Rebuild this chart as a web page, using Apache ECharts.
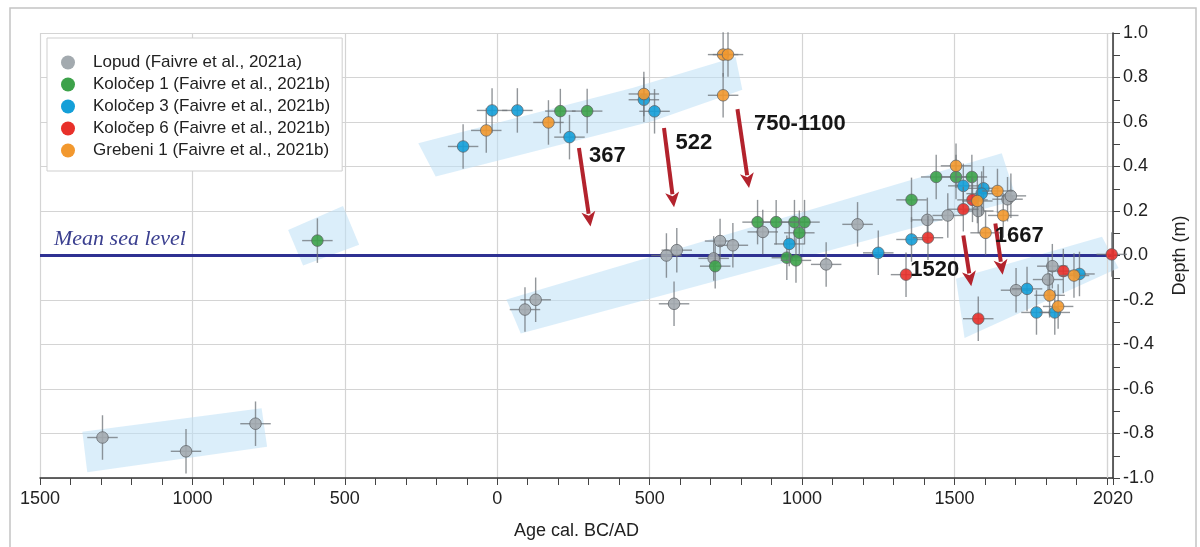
<!DOCTYPE html>
<html>
<head>
<meta charset="utf-8">
<script src="https://cdn.jsdelivr.net/npm/echarts@6/dist/echarts.min.js"></script>
<style>
  html, body { margin: 0; padding: 0; background: #fff; }
  #chart { width: 1200px; height: 547px; }
</style>
</head>
<body>
<div id="chart"></div>
<script>
// age (BC negative / AD positive), depth (m)
const lopud = [
  [-1295, -0.818], [-1021, -0.88], [-793, -0.756],
  [91, -0.243], [126, -0.199], [555, 0.0], [589, 0.024], [580, -0.217],
  [731, 0.065], [773, 0.046], [710, -0.013], [871, 0.106], [1079, -0.04],
  [1182, 0.14], [1411, 0.16], [1478, 0.18], [1578, 0.2], [1674, 0.253],
  [1685, 0.268], [1821, -0.048], [1807, -0.108], [1702, -0.156]
]
const kolocep1 = [
  [-590, 0.067], [207, 0.649], [295, 0.649], [715, -0.048], [854, 0.15],
  [915, 0.15], [975, 0.15], [1008, 0.15], [991, 0.102], [950, -0.01],
  [980, -0.022], [1359, 0.25], [1440, 0.353], [1505, 0.353], [1557, 0.353]
]
const kolocep3 = [
  [-112, 0.49], [-17, 0.652], [66, 0.652], [237, 0.532], [481, 0.70],
  [516, 0.648], [958, 0.052], [1250, 0.012], [1359, 0.072], [1529, 0.313],
  [1595, 0.302], [1589, 0.278], [1738, -0.15], [1769, -0.256], [1829, -0.256],
  [1910, -0.083]
]
const kolocep6 = [
  [1341, -0.086], [1413, 0.08], [1529, 0.208], [1559, 0.25], [1578, -0.284],
  [1857, -0.07], [2016, 0.005]
]
const grebeni1 = [
  [-36, 0.562], [168, 0.598], [481, 0.726], [741, 0.903], [757, 0.903],
  [741, 0.72], [1505, 0.403], [1575, 0.245], [1641, 0.29], [1660, 0.18],
  [1602, 0.102], [1892, -0.09], [1812, -0.179], [1840, -0.229]
]
// error bar half widths
const X_ERR = 50
const Y_ERR = 0.1

// light blue trend bands (corner points, data coords)
const bands = [
  [[-1361, -0.792], [-773, -0.687], [-755, -0.86], [-1345, -0.974]],
  [[-686, 0.115], [-506, 0.223], [-453, 0.048], [-637, -0.045]],
  [[-259, 0.505], [443, 0.753], [782, 0.892], [804, 0.745], [509, 0.603], [-202, 0.355]],
  [[30, -0.198], [1655, 0.46], [1705, 0.25], [77, -0.351]],
  [[1505, -0.105], [1984, 0.084], [2038, -0.056], [1533, -0.371]]
]

// arrows: x1, y1, x2, y2 ; labels: text, x, y
const arrows = [
  [268, 0.483, 306, 0.13],
  [547, 0.573, 580, 0.217],
  [788, 0.658, 826, 0.303],
  [1529, 0.09, 1555, -0.138],
  [1634, 0.144, 1658, -0.086]
]
const arrowLabels = [
  ['367', 301, 0.448],
  ['522', 585, 0.505],
  ['750-1100', 842, 0.592],
  ['1520', 1355, -0.063],
  ['1667', 1632, 0.09]
]

const xLabels = [-1500, -1000, -500, 0, 500, 1000, 1500, 2020]

const FONT = 'Arial, "Liberation Sans", sans-serif'
let chart = echarts.init(document.getElementById('chart'))

function pointSeries(name, data, color) {
  return {
    name: name,
    type: 'custom',
    itemStyle: { color: color },
    z: 5,
    clip: false,
    data: data,
    renderItem(params, api) {
      let x = api.value(0), y = api.value(1)
      let c = api.coord([x, y])
      let l = api.coord([x - X_ERR, y]), r = api.coord([x + X_ERR, y])
      let t = api.coord([x, y + Y_ERR]), b = api.coord([x, y - Y_ERR])
      let barStyle = { stroke: 'rgba(110,115,120,0.75)', lineWidth: 1.4 }
      return {
        type: 'group',
        children: [
          { type: 'line', shape: { x1: l[0], y1: l[1], x2: r[0], y2: r[1] }, style: barStyle },
          { type: 'line', shape: { x1: t[0], y1: t[1], x2: b[0], y2: b[1] }, style: barStyle },
          {
            type: 'circle',
            shape: { cx: c[0], cy: c[1], r: 5.8 },
            style: { fill: color, stroke: '#5a5f63', lineWidth: 0.8, opacity: 0.9 }
          }
        ]
      }
    }
  }
}

chart.setOption({
  backgroundColor: '#fff',
  animation: false,
  textStyle: { fontFamily: FONT },
  graphic: [{
    type: 'rect',
    shape: { x: 10, y: 8, width: 1186, height: 560 },
    style: { fill: 'none', stroke: '#c4c4c4', lineWidth: 1.5 },
    z: -10
  }],
  legend: {
    left: 47,
    top: 38,
    orient: 'vertical',
    backgroundColor: '#fff',
    borderColor: '#cfcfcf',
    borderWidth: 1,
    padding: [16, 12, 12, 14],
    itemGap: 5,
    itemWidth: 14,
    itemHeight: 14,
    icon: 'circle',
    textStyle: { fontSize: 17, color: '#222', fontFamily: FONT, padding: [0, 0, 0, 13] },
    data: [
      'Lopud (Faivre et al., 2021a)',
      'Koločep 1 (Faivre et al., 2021b)',
      'Koločep 3 (Faivre et al., 2021b)',
      'Koločep 6 (Faivre et al., 2021b)',
      'Grebeni 1 (Faivre et al., 2021b)'
    ]
  },
  grid: { left: 40, right: 87, top: 33, bottom: 69 },
  xAxis: {
    type: 'value',
    min: -1500,
    max: 2020,
    interval: 500,
    name: 'Age cal. BC/AD',
    nameLocation: 'middle',
    nameGap: 44,
    nameTextStyle: { fontSize: 18, color: '#222' },
    axisLine: { onZero: false, lineStyle: { color: '#333', width: 1.5 } },
    axisTick: { show: true, length: 7, lineStyle: { color: '#444' } },
    minorTick: { show: true, splitNumber: 5, length: 7, lineStyle: { color: '#444' } },
    axisLabel: {
      fontSize: 18,
      color: '#222',
      margin: 12,
      customValues: xLabels,
      formatter: v => String(Math.abs(v))
    },
    splitLine: { show: true, lineStyle: { color: '#d4d4d4', width: 1.2 } }
  },
  yAxis: {
    type: 'value',
    position: 'right',
    min: -1,
    max: 1,
    interval: 0.2,
    name: 'Depth (m)',
    nameLocation: 'middle',
    nameGap: 58,
    nameRotate: 90,
    nameTextStyle: { fontSize: 18, color: '#222' },
    axisLine: { show: true, onZero: false, lineStyle: { color: '#333', width: 1.5 } },
    axisTick: { show: true, length: 7, lineStyle: { color: '#444' } },
    minorTick: { show: true, splitNumber: 2, length: 7, lineStyle: { color: '#444' } },
    axisLabel: {
      fontSize: 18,
      color: '#222',
      margin: 10,
      formatter: v => v.toFixed(1)
    },
    splitLine: { show: true, lineStyle: { color: '#d4d4d4', width: 1.2 } }
  },
  series: [
    {
      // trend bands
      type: 'custom',
      silent: true,
      z: 1,
      clip: false,
      data: bands.map((b, i) => [i]),
      renderItem(params, api) {
        let pts = bands[params.dataIndex].map(p => api.coord(p))
        return {
          type: 'polygon',
          shape: { points: pts },
          style: { fill: 'rgba(190,224,246,0.55)' }
        }
      }
    },
    {
      // mean sea level + extra gridline at 2000
      type: 'line',
      data: [],
      z: 3,
      markLine: {
        silent: true,
        symbol: 'none',
        animation: false,
        data: [
          {
            yAxis: 0,
            lineStyle: { color: '#2e3192', width: 3, type: 'solid' },
            label: {
              show: true,
              position: 'insideStartTop',
              formatter: 'Mean sea level',
              fontFamily: '"Liberation Serif", "DejaVu Serif", serif',
              fontStyle: 'italic',
              fontSize: 22,
              color: '#3a3f8f',
              distance: [14, 5]
            }
          },
          {
            xAxis: 2000,
            lineStyle: { color: '#d4d4d4', width: 1.2, type: 'solid' },
            label: { show: false }
          }
        ]
      }
    },
    pointSeries('Lopud (Faivre et al., 2021a)', lopud, '#a3aaaf'),
    pointSeries('Koločep 1 (Faivre et al., 2021b)', kolocep1, '#3da24a'),
    pointSeries('Koločep 3 (Faivre et al., 2021b)', kolocep3, '#149fd8'),
    pointSeries('Koločep 6 (Faivre et al., 2021b)', kolocep6, '#e8302a'),
    pointSeries('Grebeni 1 (Faivre et al., 2021b)', grebeni1, '#f2982e'),
    {
      // red arrows
      type: 'custom',
      silent: true,
      z: 6,
      clip: false,
      data: arrows,
      renderItem(params, api) {
        let s = api.coord([api.value(0), api.value(1)])
        let e = api.coord([api.value(2), api.value(3)])
        let dx = e[0] - s[0], dy = e[1] - s[1]
        let len = Math.sqrt(dx * dx + dy * dy)
        let ux = dx / len, uy = dy / len
        let headLen = 15, headW = 7
        let bx = e[0] - ux * headLen, by = e[1] - uy * headLen
        let color = '#b3232d'
        return {
          type: 'group',
          children: [
            {
              type: 'line',
              shape: { x1: s[0], y1: s[1], x2: bx + ux * 2, y2: by + uy * 2 },
              style: { stroke: color, lineWidth: 4 }
            },
            {
              type: 'polygon',
              shape: {
                points: [
                  [e[0], e[1]],
                  [bx - uy * headW, by + ux * headW],
                  [bx + ux * 4, by + uy * 4],
                  [bx + uy * headW, by - ux * headW]
                ]
              },
              style: { fill: color }
            }
          ]
        }
      }
    },
    {
      // arrow labels
      type: 'custom',
      silent: true,
      z: 7,
      clip: false,
      data: arrowLabels.map(a => [a[1], a[2]]),
      renderItem(params, api) {
        let p = api.coord([api.value(0), api.value(1)])
        return {
          type: 'text',
          x: p[0],
          y: p[1],
          style: {
            text: arrowLabels[params.dataIndex][0],
            fill: '#161616',
            font: 'bold 22px ' + FONT,
            textAlign: 'left',
            textVerticalAlign: 'middle'
          }
        }
      }
    }
  ]
})
</script>
</body>
</html>
